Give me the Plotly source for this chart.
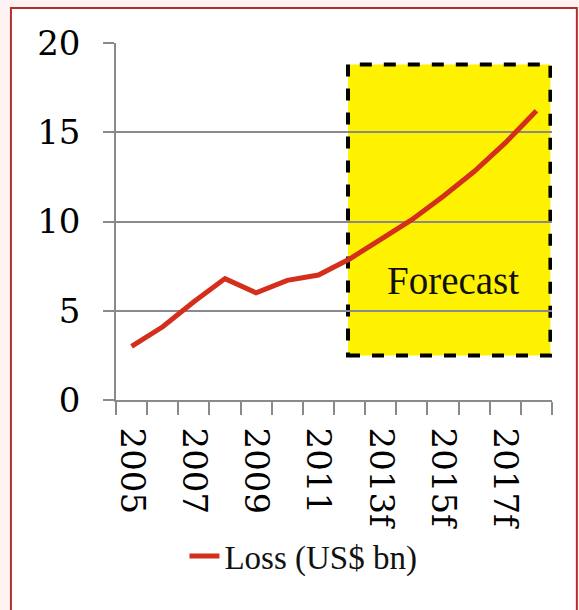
import plotly.graph_objects as go

# Annual losses, US$ bn (2012 onward are forecasts)
years = ["2005", "2006", "2007", "2008", "2009", "2010", "2011", "2012",
         "2013f", "2014f", "2015f", "2016f", "2017f", "2018f"]
loss = [3.0, 4.1, 5.5, 6.8, 6.0, 6.7, 7.0, 7.9, 9.0, 10.1, 11.4, 12.8, 14.4, 16.2]

# Every second year is labelled on the axis
label_years = ["2005", "2007", "2009", "2011", "2013f", "2015f", "2017f"]

y_ticks = [0, 5, 10, 15, 20]

# Extent of the shaded forecast region
forecast_x = [6.95, 13.45]
forecast_y = [2.5, 18.8]

pos = list(range(len(years)))
label_pos = [years.index(y) for y in label_years]

RED = "#D32F1C"
GRID = "#8A8A8E"
TICK_FONT = dict(family="DejaVu Serif", size=34, color="#000000")
TEXT_FONT = "Liberation Serif"

fig = go.Figure()
fig.add_trace(go.Scatter(
    x=pos, y=loss, mode="lines", name="Loss (US$ bn)",
    line=dict(color=RED, width=5),
))

# Outer frame around the chart
fig.add_shape(type="rect", xref="paper", yref="paper",
              x0=-0.241, x1=1.057, y0=-0.60, y1=1.098,
              line=dict(color="#B3302A", width=2), fillcolor="white",
              layer="below")

# Forecast box
fig.add_shape(type="rect", xref="x", yref="y",
              x0=forecast_x[0], x1=forecast_x[1],
              y0=forecast_y[0], y1=forecast_y[1],
              fillcolor="#FFF200", line=dict(color="black", width=4, dash="dash"),
              layer="below")

fig.add_annotation(x=10.32, y=6.7, xref="x", yref="y", text="Forecast",
                   showarrow=False, font=dict(family=TEXT_FONT, size=39, color="#111111"))

fig.update_xaxes(
    range=[-0.5, len(years) - 0.5],
    tickvals=label_pos, ticktext=label_years, tickangle=90,
    ticks="", ticklabelstandoff=19,
    tickfont=TICK_FONT,
    minor=dict(ticks="outside", tick0=-0.5, dtick=1, ticklen=13,
               tickcolor=GRID, tickwidth=1.5, showgrid=False),
    showgrid=False, showline=True, linecolor=GRID, linewidth=1.5,
    zeroline=False,
)
fig.update_yaxes(
    range=[0, 20], tickvals=y_ticks,
    ticks="outside", ticklen=11, tickcolor=GRID, tickwidth=1.5,
    tickfont=TICK_FONT, ticklabelstandoff=16,
    showgrid=True, gridcolor=GRID, gridwidth=1.5,
    showline=True, linecolor=GRID, linewidth=1.5,
    zeroline=False,
)

fig.update_layout(
    width=579, height=610,
    margin=dict(l=116, r=27, t=43, b=210),
    paper_bgcolor="#FDF3F2", plot_bgcolor="rgba(0,0,0,0)",
    showlegend=True,
    legend=dict(x=0.157, y=-0.437, xanchor="left", yanchor="middle",
                orientation="h", bgcolor="rgba(0,0,0,0)",
                font=dict(family=TEXT_FONT, size=33, color="#111111")),
)

fig.write_html("out.html")
